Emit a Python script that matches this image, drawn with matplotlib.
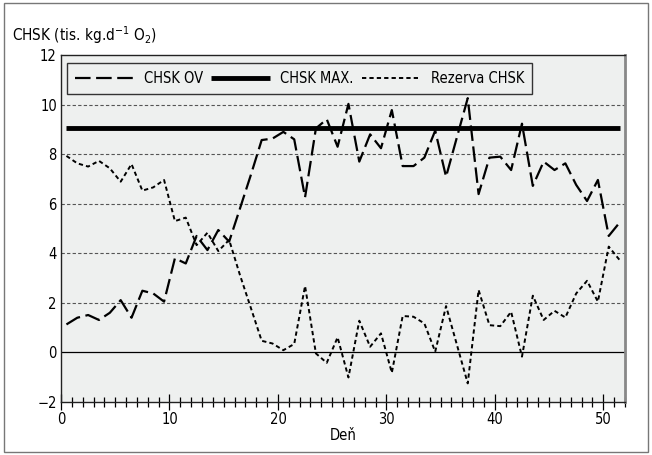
import numpy as np
import matplotlib.pyplot as plt
from matplotlib.patches import Rectangle
from matplotlib.ticker import MultipleLocator

plt.rcParams['font.family'] = ['DejaVu Sans']
plt.rcParams['font.stretch'] = 'condensed'
plt.rcParams['mathtext.fontset'] = 'custom'
plt.rcParams['mathtext.rm'] = 'DejaVu Sans:stretch=condensed'

# dni (stred dna)
den = np.arange(52) + 0.5

chsk_ov = [1.13, 1.40, 1.51, 1.31, 1.60, 2.11, 1.40, 2.49, 2.38, 2.05,
           3.80, 3.59, 4.70, 4.13, 4.94, 4.47, 5.81, 7.16, 8.57, 8.63,
           8.90, 8.60, 6.26, 9.04, 9.41, 8.30, 10.03, 7.70, 8.80, 8.24,
           9.78, 7.52, 7.52, 7.86, 8.95, 7.09, 8.68, 10.26, 6.39, 7.86,
           7.90, 7.36, 9.23, 6.72, 7.70, 7.36, 7.63, 6.76, 6.11, 6.96,
           4.70, 5.24]

rezerva = [7.93, 7.63, 7.50, 7.73, 7.43, 6.89, 7.60, 6.53, 6.66, 6.96,
           5.30, 5.44, 4.33, 4.83, 4.09, 4.54, 3.12, 1.80, 0.47, 0.36,
           0.09, 0.34, 2.68, -0.04, -0.42, 0.61, -1.01, 1.28, 0.23, 0.77,
           -0.82, 1.47, 1.44, 1.17, 0.03, 1.87, 0.31, -1.25, 2.52, 1.10,
           1.06, 1.64, -0.17, 2.29, 1.31, 1.68, 1.41, 2.38, 2.89, 2.05,
           4.27, 3.73]

chsk_max = 9.05

fig = plt.figure(figsize=(6.52, 4.55), dpi=100)
ax = fig.add_axes([0.0936, 0.1165, 0.865, 0.7625])
ax.set_facecolor('#eef0ef')

for yy in [2, 4, 6, 8, 10]:
    ax.axhline(yy, color='#555555', lw=0.8, ls=(0, (3, 2)), zorder=1)
ax.axhline(0, color='black', lw=0.9, zorder=1)

ax.plot(den, chsk_ov, color='black', lw=1.6, ls=(0, (7, 2.5)), label='CHSK OV', zorder=3)
ax.plot([den[0], den[-1]], [chsk_max, chsk_max], color='black', lw=3.5,
        solid_capstyle='butt', label='CHSK MAX.', zorder=3)
ax.plot(den, rezerva, color='black', lw=1.4, ls=(0, (2.2, 1.6)), label='Rezerva CHSK', zorder=3)

ax.set_xlim(0, 52)
ax.set_ylim(-2, 12)
ax.xaxis.set_major_locator(MultipleLocator(10))
ax.xaxis.set_minor_locator(MultipleLocator(1))
ax.tick_params(axis='x', which='major', direction='inout', length=12, width=0.9, labelsize=10.5, pad=1)
ax.tick_params(axis='x', which='minor', direction='inout', length=7, width=0.9)
ax.tick_params(axis='y', length=0, labelsize=10.5, pad=3)
ax.set_yticks([-2, 0, 2, 4, 6, 8, 10, 12])
ax.set_yticklabels(['\u22122', '0', '2', '4', '6', '8', '10', '12'])

for s in ['left', 'bottom', 'top']:
    ax.spines[s].set_color('#222222')
    ax.spines[s].set_linewidth(1.0)
ax.spines['right'].set_color('#888888')
ax.spines['right'].set_linewidth(2.0)

ax.set_xlabel('Deň', fontsize=10.5, labelpad=1)
fig.text(0.018, 0.91, 'CHSK (tis. kg.d$^{-1}$ O$_2$)', fontsize=11, ha='left', va='baseline')

leg = ax.legend(loc='upper left', ncol=3, bbox_to_anchor=(0.0106, 0.977), borderaxespad=0,
                frameon=True, fancybox=False, edgecolor='#333333', facecolor='#eef0ef',
                framealpha=1, fontsize=10.5, handlelength=4.0, columnspacing=0.6,
                handletextpad=0.7, borderpad=0.55)
leg.get_frame().set_linewidth(1.0)

fig.patches.append(Rectangle((0.006, 0.006), 0.988, 0.988, transform=fig.transFigure,
                             fill=False, edgecolor='#777777', lw=1.0))

fig.savefig('out.png', dpi=100)
